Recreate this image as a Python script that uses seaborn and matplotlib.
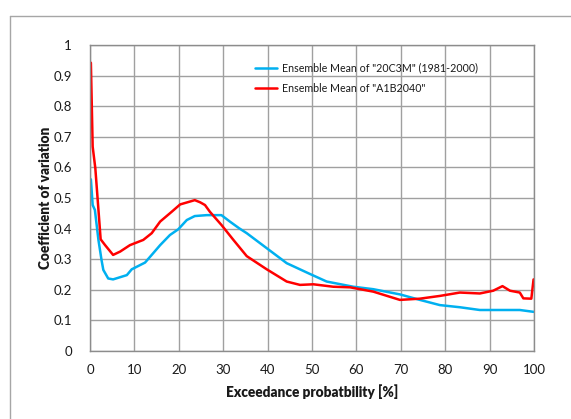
import numpy as np
import pandas as pd
import matplotlib
matplotlib.use("Agg")
import matplotlib.pyplot as plt
from matplotlib.lines import Line2D
import seaborn as sns

# Exceedance probability [%] and coefficient of variation, ensemble means
x_20c3m = [0.2, 0.6, 1.1, 1.9, 2.6, 3.0, 4.1, 5.2, 8.3, 9.4, 10.9, 12.4, 13.9,
           15.8, 18.0, 19.9, 21.8, 23.6, 26.3, 29.6, 31.5, 33.6, 35.3, 39.8,
           44.3, 49.5, 53.3, 59.3, 63.8, 69.8, 74.3, 78.8, 83.3, 87.8, 92.3,
           96.8, 99.9]
cv_20c3m = [0.561, 0.477, 0.461, 0.363, 0.297, 0.265, 0.237, 0.234, 0.248, 0.267,
            0.278, 0.289, 0.314, 0.346, 0.379, 0.398, 0.428, 0.441, 0.444, 0.444,
            0.423, 0.401, 0.385, 0.336, 0.287, 0.252, 0.227, 0.210, 0.202, 0.185,
            0.167, 0.150, 0.143, 0.134, 0.134, 0.134, 0.128]

x_a1b = [0.2, 0.6, 1.2, 2.4, 3.4, 5.2, 6.8, 9.0, 12.0, 13.9, 15.8, 18.4, 20.3,
         23.6, 24.8, 25.9, 27.0, 29.6, 32.3, 35.3, 39.8, 44.3, 47.3, 50.3, 54.8,
         58.6, 63.8, 69.8, 74.3, 78.8, 83.3, 87.8, 90.8, 92.9, 94.6, 96.8, 97.6,
         99.4, 99.9]
cv_a1b = [0.942, 0.668, 0.597, 0.365, 0.346, 0.314, 0.325, 0.346, 0.363, 0.385,
          0.423, 0.455, 0.479, 0.493, 0.486, 0.477, 0.455, 0.412, 0.363, 0.310,
          0.267, 0.227, 0.216, 0.218, 0.210, 0.208, 0.194, 0.167, 0.171, 0.180,
          0.191, 0.188, 0.197, 0.212, 0.197, 0.191, 0.172, 0.171, 0.234]

series_names = ['Ensemble Mean of "20C3M" (1981-2000)', 'Ensemble Mean of "A1B2040"']
series_colors = ["#00b0f0", "#ff0000"]

x_ticks = list(range(0, 101, 10))
y_ticks = [round(0.1 * i, 1) for i in range(11)]
y_tick_labels = ["0", "0.1", "0.2", "0.3", "0.4", "0.5", "0.6", "0.7", "0.8", "0.9", "1"]

df = pd.concat([
    pd.DataFrame({"x": x_20c3m, "cv": cv_20c3m, "series": series_names[0]}),
    pd.DataFrame({"x": x_a1b, "cv": cv_a1b, "series": series_names[1]}),
], ignore_index=True)

sns.set_theme(style="white")
plt.rcParams["font.family"] = ["Lato", "DejaVu Sans"]

fig = plt.figure(figsize=(5.71, 4.19), dpi=100)
ax = fig.add_axes([90 / 571, 68 / 419, 444 / 571, 306 / 419])

sns.lineplot(data=df, x="x", y="cv", hue="series", palette=series_colors,
             hue_order=series_names, linewidth=1.8, sort=False, ax=ax,
             estimator=None)

ax.set_xlim(0, 100)
ax.set_ylim(0, 1)
ax.set_xticks(x_ticks)
ax.set_yticks(y_ticks)
ax.set_yticklabels(y_tick_labels)
ax.tick_params(axis="both", length=0, labelsize=9.5, colors="#1a1a1a")
ax.tick_params(axis="y", pad=13)
ax.tick_params(axis="x", pad=9)

ax.grid(True, color="#a0a0a0", linewidth=1.0)
ax.set_axisbelow(True)
for side in ["left", "bottom", "top", "right"]:
    ax.spines[side].set_color("#8c8c8c")
    ax.spines[side].set_linewidth(1.0)

ax.set_xlabel("Exceedance probatbility [%]", fontsize=9.8, fontweight="heavy",
              color="#1a1a1a")
ax.set_ylabel("Coefficient of variation", fontsize=9.8, fontweight="heavy",
              color="#1a1a1a")
ax.xaxis.set_label_coords(0.5, (351 - 392) / 306)
ax.xaxis.label.set_verticalalignment("center")
ax.yaxis.set_label_coords((46 - 90) / 444, 0.5)
ax.yaxis.label.set_verticalalignment("center")

leg = ax.legend(loc="center left", bbox_to_anchor=((255 - 90) / 444, (351 - 78) / 306),
                frameon=False, fontsize=7.7, handlelength=2.1, handletextpad=0.4,
                labelspacing=0.85, borderpad=0, borderaxespad=0)
for t in leg.get_texts():
    t.set_color("#1a1a1a")

# Outer chart-area border (left and top edges)
fx = 10 / 571
fy = 1 - 16 / 419
fig.add_artist(Line2D([fx, fx], [0, fy], transform=fig.transFigure,
                      color="#a6a6a6", linewidth=1.0))
fig.add_artist(Line2D([fx, 1], [fy, fy], transform=fig.transFigure,
                      color="#a6a6a6", linewidth=1.0))

fig.savefig("out.png", dpi=100)
